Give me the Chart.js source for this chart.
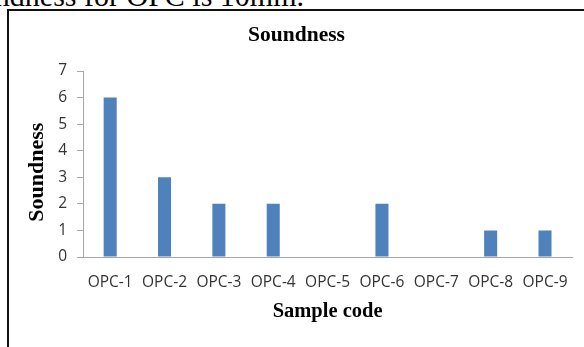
<!DOCTYPE html>
<html lang="en">
<head>
    <meta charset="UTF-8">
    <title>Soundness</title>
    <script src="https://cdn.jsdelivr.net/npm/chart.js"></script>
    <style>
        html, body {
            margin: 0;
            padding: 0;
            background: #ffffff;
            width: 584px;
            height: 347px;
            overflow: hidden;
            position: relative;
        }
        .caption {
            position: absolute;
            right: 280px;
            top: -19px;
            font-family: 'Liberation Serif', 'Times New Roman', serif;
            font-size: 30px;
            line-height: 30px;
            white-space: nowrap;
            color: #000;
        }
        .frame {
            position: absolute;
            left: 7px;
            top: 9px;
            width: 600px;
            height: 400px;
            border: 2px solid #111;
            box-sizing: border-box;
        }
        #chart {
            position: absolute;
            left: 0;
            top: 0;
        }
    </style>
</head>
<body>
<div class="caption">soundness for OPC is 10mm.</div>
<div class="frame"></div>
<canvas id="chart" width="584" height="347"></canvas>

<script>
    const sampleCodes = ['OPC-1', 'OPC-2', 'OPC-3', 'OPC-4', 'OPC-5', 'OPC-6', 'OPC-7', 'OPC-8', 'OPC-9'];
    const soundness = [6, 3, 2, 2, 0, 2, 0, 1, 1];
    const yTicks = [0, 1, 2, 3, 4, 5, 6, 7];

    const serif = "'Liberation Serif', 'Times New Roman', serif";
    const sans = "'Open Sans', sans-serif";

    new Chart(document.getElementById('chart').getContext('2d'), {
        type: 'bar',
        data: {
            labels: sampleCodes,
            datasets: [{
                label: 'Soundness',
                data: soundness,
                backgroundColor: '#4F81BD',
                borderWidth: 0,
                categoryPercentage: 1,
                barPercentage: 0.24
            }]
        },
        options: {
            responsive: false,
            animation: false,
            devicePixelRatio: 1,
            layout: {
                padding: { left: 18, right: 9, top: 0, bottom: 0 }
            },
            plugins: {
                legend: { display: false },
                tooltip: { enabled: false },
                title: {
                    display: true,
                    text: 'Soundness',
                    color: '#000',
                    font: { family: serif, size: 21.5, weight: 'bold', lineHeight: 1.2 },
                    padding: { top: 23, bottom: 22.2 }
                }
            },
            scales: {
                x: {
                    grid: { display: false, drawTicks: false },
                    border: { display: true, color: '#a6a6a6', width: 1 },
                    ticks: {
                        color: '#333333',
                        font: { family: sans, size: 15.5 },
                        padding: 16,
                        maxRotation: 0,
                        autoSkip: false
                    },
                    title: {
                        display: true,
                        text: 'Sample code',
                        color: '#000',
                        font: { family: serif, size: 20.5, weight: 'bold', lineHeight: 1.2 },
                        padding: { top: 0, bottom: 23 }
                    },
                    afterFit: s => { s.height = 90; }
                },
                y: {
                    min: 0,
                    max: 7,
                    afterBuildTicks: s => { s.ticks = yTicks.map(v => ({ value: v })); },
                    grid: {
                        drawOnChartArea: false,
                        drawTicks: true,
                        tickLength: 6,
                        color: '#a6a6a6'
                    },
                    border: { display: true, color: '#a6a6a6', width: 1 },
                    ticks: {
                        color: '#333333',
                        font: { family: sans, size: 15.5 },
                        padding: 10
                    },
                    title: {
                        display: true,
                        text: 'Soundness   ',
                        color: '#000',
                        font: { family: serif, size: 22, weight: 'bold', lineHeight: 1.2 },
                        padding: { top: 6, bottom: 0 }
                    },
                    afterFit: s => { s.width = 65; }
                }
            }
        }
    });
</script>
</body>
</html>
